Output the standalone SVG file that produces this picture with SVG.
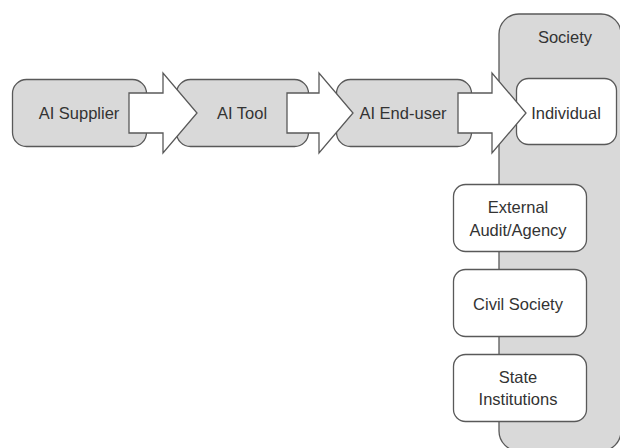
<svg xmlns="http://www.w3.org/2000/svg" width="620" height="448" viewBox="0 0 620 448">
<style>
.bg{fill:#ffffff}
.grey{fill:#d9d9d9;stroke:#595959;stroke-width:1.3}
.white{fill:#ffffff;stroke:#595959;stroke-width:1.3}
.arrow{fill:#ffffff;stroke:#595959;stroke-width:1.3;stroke-linejoin:miter}
text{font-family:"Liberation Sans",Arial,sans-serif;font-size:16.5px;fill:#333333;text-anchor:middle}
</style>
<rect class="bg" x="0" y="0" width="620" height="448"/>
<g id="society">
<rect class="grey" x="499" y="14" width="122" height="437" rx="20" ry="20"/>
<text x="565" y="43">Society</text>
</g>
<g id="ai-supplier">
<rect class="grey" x="12.5" y="79.5" width="134" height="67" rx="14" ry="14"/>
<text x="79" y="119">AI Supplier</text>
</g>
<g id="ai-tool">
<rect class="grey" x="176.5" y="79.5" width="132" height="67" rx="14" ry="14"/>
<text x="242" y="119">AI Tool</text>
</g>
<g id="ai-end-user">
<rect class="grey" x="336.5" y="79.5" width="135" height="67" rx="14" ry="14"/>
<text x="403" y="119">AI End-user</text>
</g>
<g id="individual">
<rect class="white" x="516.5" y="78.5" width="100" height="66" rx="12" ry="12"/>
<text x="566" y="119">Individual</text>
</g>
<g id="external-audit">
<rect class="white" x="453.5" y="184.5" width="133" height="67" rx="12" ry="12"/>
<text x="518" y="213">External</text>
<text x="518" y="236">Audit/Agency</text>
</g>
<g id="civil-society">
<rect class="white" x="453.5" y="269.5" width="133" height="67" rx="12" ry="12"/>
<text x="518" y="310">Civil Society</text>
</g>
<g id="state-institutions">
<rect class="white" x="453.5" y="354.5" width="133" height="67" rx="12" ry="12"/>
<text x="518" y="383">State</text>
<text x="518" y="405">Institutions</text>
</g>
<g id="connectors">
<polygon class="arrow" points="129,93 163,93 163,73 197,113 163,153 163,133 129,133"/>
<polygon class="arrow" points="287,93 319,93 319,73 353,113 319,153 319,133 287,133"/>
<polygon class="arrow" points="458,93 492,93 492,73 526,113 492,153 492,133 458,133"/>
</g>
</svg>
